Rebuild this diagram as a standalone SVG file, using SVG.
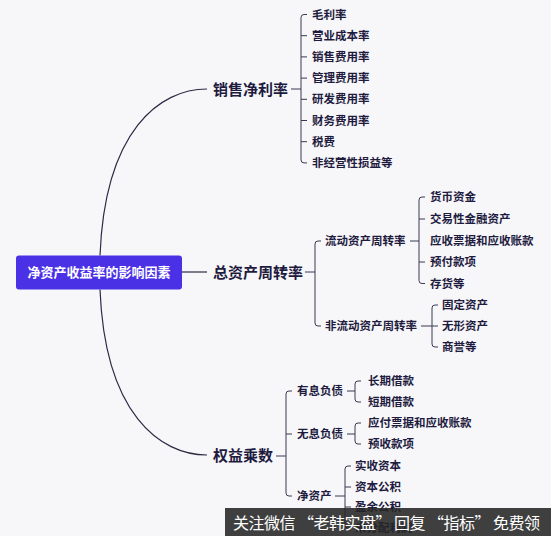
<svg xmlns="http://www.w3.org/2000/svg" width="551" height="536" viewBox="0 0 551 536">
<style>
text{font-family:"Noto Sans CJK SC","Noto Sans",sans-serif;fill:#1e1b3f;font-weight:bold}
.l1{font-size:15px}
.l2{font-size:11.5px}
.root{font-size:13px;fill:#ffffff;text-anchor:middle}
.c{fill:none;stroke:#2c2a45;stroke-width:1.2}
.b{fill:none;stroke:#3a3852;stroke-width:1}
.wm{font-size:16px;font-weight:normal;fill:#ffffff}
</style>
<rect width="551" height="536" fill="#f7f7f9"/>
<g id="connectors">
<path class="c" d="M100,255.5 C105,130 160,89 207,89"/>
<path class="c" d="M182,272 H207"/>
<path class="c" d="M100,289.5 C105,414 160,455 207,455"/>
<!-- 销售净利率 -->
<path class="b" d="M291,89 H301 M307,14.5 H304 Q301,14.5 301,17.5 V159.9 Q301,162.9 304,162.9 H307 M301,35.7 H307 M301,56.9 H307 M301,78.1 H307 M301,99.3 H307 M301,120.5 H307 M301,141.7 H307"/>
<!-- 总资产周转率 -->
<path class="b" d="M305,272 H315 M321,241 H318 Q315,241 315,244 V323 Q315,326 318,326 H321"/>
<!-- 流动资产周转率 -->
<path class="b" d="M410,241 H419 M425,197 H422 Q419,197 419,200 V280.5 Q419,283.5 422,283.5 H425 M419,219 H425 M419,262 H425"/>
<!-- 非流动资产周转率 -->
<path class="b" d="M421,326 H438 M438,305 H435 Q432,305 432,308 V344 Q432,347 435,347 H438"/>
<!-- 权益乘数 -->
<path class="b" d="M276,456 H286 M292,391 H289 Q286,391 286,394 V493 Q286,496 289,496 H292 M286,434 H292"/>
<!-- 有息负债 -->
<path class="b" d="M347,391 H355 M361,381 H358 Q355,381 355,384 V399 Q355,402 358,402 H361"/>
<!-- 无息负债 -->
<path class="b" d="M347,434 H355 M361,423 H358 Q355,423 355,426 V441 Q355,444 358,444 H361"/>
<!-- 净资产 -->
<path class="b" d="M335,496 H345 M351,466 H348 Q345,466 345,469 V525 Q345,528 348,528 H351 M345,487 H351 M345,507 H351"/>
</g>
<g id="root">
<rect x="16" y="255.5" width="166" height="34" rx="3" fill="#4b31e6"/>
<text class="root" x="99" y="277">净资产收益率的影响因素</text>
</g>
<g id="n-xsjll"><text class="l1" x="213" y="94.5">销售净利率</text></g>
<g id="n-zzczzl"><text class="l1" x="213" y="277.5">总资产周转率</text></g>
<g id="n-qycs"><text class="l1" x="213" y="461">权益乘数</text></g>
<g id="n-xs-children">
<text class="l2" x="312" y="18.5">毛利率</text>
<text class="l2" x="312" y="39.7">营业成本率</text>
<text class="l2" x="312" y="60.9">销售费用率</text>
<text class="l2" x="312" y="82.1">管理费用率</text>
<text class="l2" x="312" y="103.3">研发费用率</text>
<text class="l2" x="312" y="124.5">财务费用率</text>
<text class="l2" x="312" y="145.7">税费</text>
<text class="l2" x="312" y="166.9">非经营性损益等</text>
</g>
<g id="n-ldzc"><text class="l2" x="325" y="245">流动资产周转率</text></g>
<g id="n-fldzc"><text class="l2" x="325" y="330">非流动资产周转率</text></g>
<g id="n-ld-children">
<text class="l2" x="430" y="201">货币资金</text>
<text class="l2" x="430" y="223">交易性金融资产</text>
<text class="l2" x="430" y="245">应收票据和应收账款</text>
<text class="l2" x="430" y="266">预付款项</text>
<text class="l2" x="430" y="287.5">存货等</text>
</g>
<g id="n-fld-children">
<text class="l2" x="442" y="309">固定资产</text>
<text class="l2" x="442" y="330">无形资产</text>
<text class="l2" x="442" y="351">商誉等</text>
</g>
<g id="n-yxfz"><text class="l2" x="297" y="395">有息负债</text></g>
<g id="n-wxfz"><text class="l2" x="297" y="438">无息负债</text></g>
<g id="n-jzc"><text class="l2" x="297" y="500">净资产</text></g>
<g id="n-yx-children">
<text class="l2" x="368" y="385">长期借款</text>
<text class="l2" x="368" y="406">短期借款</text>
</g>
<g id="n-wx-children">
<text class="l2" x="368" y="427">应付票据和应收账款</text>
<text class="l2" x="368" y="448">预收款项</text>
</g>
<g id="n-jzc-children">
<text class="l2" x="355" y="470">实收资本</text>
<text class="l2" x="355" y="491">资本公积</text>
<text class="l2" x="355" y="511">盈余公积</text>
<text class="l2" x="355" y="532">未分配利润</text>
</g>
<g id="watermark">
<rect x="225" y="508" width="326" height="28" fill="#262626" fill-opacity="0.88"/>
<text class="wm" x="233" y="528.5" textLength="307" lengthAdjust="spacing">关注微信 “老韩实盘” 回复 “指标” 免费领</text>
</g>
</svg>
